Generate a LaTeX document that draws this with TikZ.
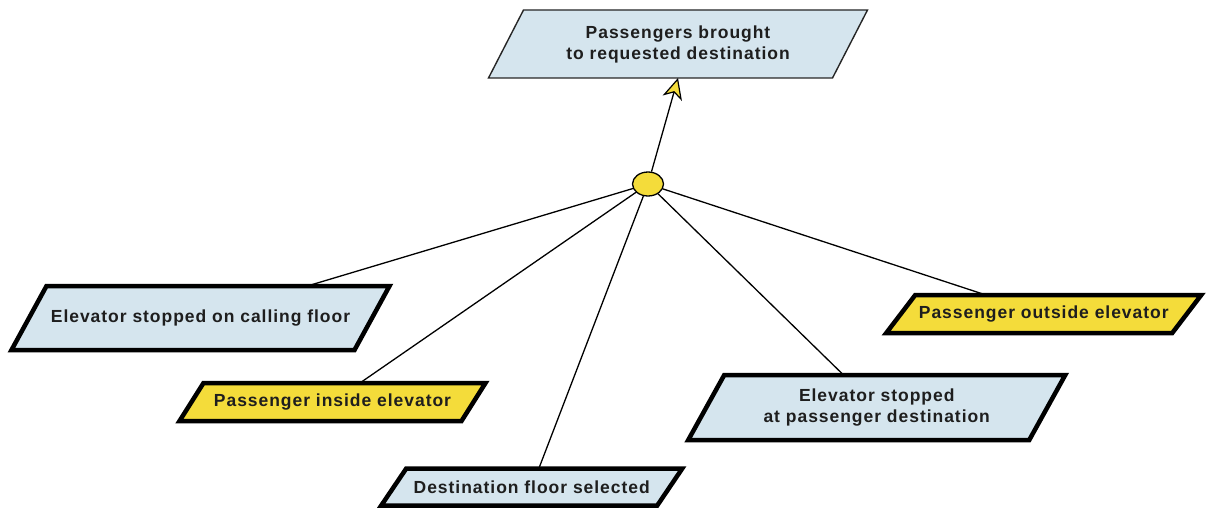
\documentclass[tikz,border=0pt]{standalone}
\usepackage{fontspec}
\setmainfont{Liberation Sans}
\newfontfamily\boxfont{Liberation Sans}[LetterSpace=5.5]
\usetikzlibrary{shapes.geometric,arrows.meta}
\definecolor{goalblue}{HTML}{D5E5EE}
\definecolor{agentyellow}{HTML}{F4DC3A}
\definecolor{inktext}{HTML}{1E1E1E}
% \parabox{name}{frame style}{cx}{cy}{mid width}{height}{skew}{text}
\newcommand\parabox[8]{%
  \path[#2] ({#3-#5/2+#7/2},{#4-#6/2}) -- ({#3+#5/2+#7/2},{#4-#6/2})
    -- ({#3+#5/2-#7/2},{#4+#6/2}) -- ({#3-#5/2-#7/2},{#4+#6/2}) -- cycle;
  \node[boxtext, minimum width=#5pt, minimum height=#6pt] (#1) at (#3,#4) {#8};
}
\begin{document}
\begin{tikzpicture}[x=1pt,y=-1pt,
  boxtext/.style={rectangle, inner sep=0pt, outer sep=0pt, align=center,
    text=inktext, font=\boxfont\fontsize{17.5}{21}\selectfont\bfseries},
  topgoal/.style={draw=black!85, line width=1.4pt, fill=goalblue},
  subgoal/.style={draw=black, line width=4.5pt, fill=goalblue},
  agentbox/.style={draw=black, line width=4.5pt, fill=agentyellow},
  link/.style={line width=1.3pt, draw=black},
  andnode/.style={ellipse, draw=black, line width=1.3pt, fill=agentyellow,
    minimum width=31pt, minimum height=24pt, inner sep=0pt}
]
\useasboundingbox (0,0) rectangle (1206,508);

% goals and agents
\parabox{top}{topgoal}{678}{44}{344}{68}{35}{Passengers brought\\to requested destination}
\parabox{calling}{subgoal}{200.5}{318}{343}{64}{35}{Elevator stopped on calling floor}
\parabox{inside}{agentbox}{332.5}{402}{282}{38}{24}{Passenger inside elevator}
\parabox{dest}{subgoal}{531.75}{487}{276}{37}{25}{Destination floor selected}
\parabox{outside}{agentbox}{1043.75}{314}{286}{38}{29}{Passenger outside elevator}
\parabox{stopped}{subgoal}{876.75}{407.5}{341}{65}{36}{Elevator stopped\\at passenger destination}

% refinement node
\node[andnode] (and) at (648,184) {};

% connectors
\draw[link, -{Stealth[length=21pt, width=20pt, inset=6pt, fill=agentyellow, line width=1.2pt]}]
  (and) -- (top.south);
\draw[link] (and) -- (calling);
\draw[link] (and) -- (inside);
\draw[link] (and) -- (dest);
\draw[link] (and) -- (stopped);
\draw[link] (and) -- (outside);
\end{tikzpicture}
\end{document}
